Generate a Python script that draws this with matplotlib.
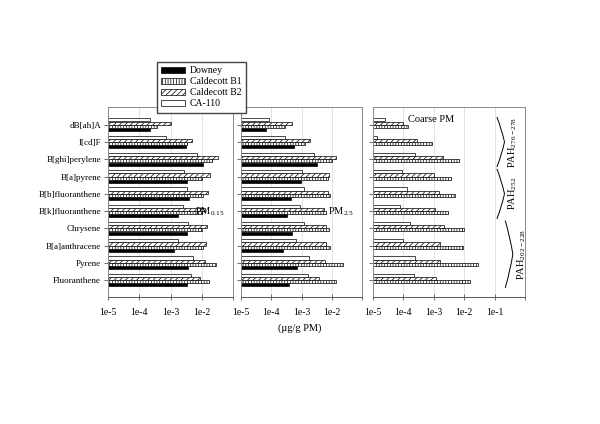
import matplotlib
matplotlib.use("Agg")
import matplotlib.pyplot as plt
import matplotlib.transforms as mtransforms
from matplotlib.path import Path
from matplotlib.patches import PathPatch
import numpy as np

plt.rcParams["font.family"] = ["Liberation Serif", "DejaVu Serif"]
plt.rcParams["mathtext.fontset"] = "custom"
plt.rcParams["mathtext.rm"] = "Liberation Serif"
plt.rcParams["hatch.linewidth"] = 0.5

categories = ["dB[ah]A", "I[cd]F", "B[ghi]perylene", "B[a]pyrene", "B[b]fluoranthene",
              "B[k]fluoranthene", "Chrysene", "B[a]anthracene", "Pyrene", "Fluoranthene"]
series = ["Downey", "Caldecott B1", "Caldecott B2", "CA-110"]

# PM0.15
downey_015 = [2.2e-4, 3.1e-3, 1.1e-2, 3.3e-3, 4.0e-3, 1.8e-3, 3.3e-3, 1.3e-3, 3.7e-3, 3.3e-3]
b1_015 = [3.6e-4, 3.3e-3, 2.1e-2, 1.0e-2, 1.1e-2, 1.0e-2, 1.0e-2, 1.1e-2, 2.9e-2, 1.75e-2]
b2_015 = [1.0e-3, 4.8e-3, 3.2e-2, 1.8e-2, 1.6e-2, 1.3e-2, 1.5e-2, 1.4e-2, 1.3e-2, 8.8e-3]
ca110_015 = [2.2e-4, 7.2e-4, 7.2e-3, 2.8e-3, 3.3e-3, 2.5e-3, 3.5e-3, 1.8e-3, 5.1e-3, 4.5e-3]

# PM2.5
downey_25 = [6.6e-5, 5.6e-4, 3.2e-3, 9.3e-4, 4.6e-4, 3.4e-4, 5.0e-4, 2.4e-4, 7.0e-4, 3.8e-4]
b1_25 = [2.8e-4, 1.35e-3, 1.0e-2, 7.3e-3, 8.7e-3, 6.5e-3, 7.9e-3, 8.7e-3, 2.3e-2, 1.4e-2]
b2_25 = [5.0e-4, 1.9e-3, 1.4e-2, 8.3e-3, 7.3e-3, 5.7e-3, 6.5e-3, 6.5e-3, 6.1e-3, 3.9e-3]
ca110_25 = [8.5e-5, 2.8e-4, 2.5e-3, 1.05e-3, 1.2e-3, 8.6e-4, 1.25e-3, 6.7e-4, 1.8e-3, 1.6e-3]

# Coarse PM (no Downey data)
b1_coarse = [1.4e-4, 9.0e-4, 6.6e-3, 3.7e-3, 4.8e-3, 2.9e-3, 9.5e-3, 9.0e-3, 2.9e-2, 1.6e-2]
b2_coarse = [1.0e-4, 2.9e-4, 2.0e-3, 1.0e-3, 1.5e-3, 1.1e-3, 2.2e-3, 1.6e-3, 1.6e-3, 1.2e-3]
ca110_coarse = [2.4e-5, 1.4e-5, 2.5e-4, 9.0e-5, 1.3e-4, 7.9e-5, 1.6e-4, 9.5e-5, 2.5e-4, 2.2e-4]

tick_labels = ["1e-5", "1e-4", "1e-3", "1e-2", "1e-1"]
groups = [("PAH$_{\\mathregular{276-278}}$", 0, 2),
          ("PAH$_{\\mathregular{252}}$", 3, 5),
          ("PAH$_{\\mathregular{202-228}}$", 6, 9)]

styles = {
    "Downey": dict(facecolor="black", edgecolor="black", hatch=None),
    "Caldecott B1": dict(facecolor="white", edgecolor="black", hatch="||||||"),
    "Caldecott B2": dict(facecolor="white", edgecolor="black", hatch="//////"),
    "CA-110": dict(facecolor="white", edgecolor="black", hatch=None),
}
offsets = {"CA-110": -0.28, "Caldecott B2": -0.09, "Caldecott B1": 0.09, "Downey": 0.28}

fig = plt.figure(figsize=(6.0, 4.24), dpi=100)
W, H = 600, 424


def add_ax(x0, x1, y0=107, y1=297):
    return fig.add_axes([x0 / W, 1 - y1 / H, (x1 - x0) / W, (y1 - y0) / H])


ax1 = add_ax(108, 233)
ax2 = add_ax(241, 362)
ax3 = add_ax(373, 525)

panels = [
    (ax1, {"Downey": downey_015, "Caldecott B1": b1_015, "Caldecott B2": b2_015, "CA-110": ca110_015}, 1e-1),
    (ax2, {"Downey": downey_25, "Caldecott B1": b1_25, "Caldecott B2": b2_25, "CA-110": ca110_25}, 1e-1),
    (ax3, {"Caldecott B1": b1_coarse, "Caldecott B2": b2_coarse, "CA-110": ca110_coarse}, 1e0),
]

y = np.arange(len(categories))
xmin = 1e-5
handles = {}
for ax, data, xmax in panels:
    ax.set_xscale("log")
    for name, vals in data.items():
        vals = np.array(vals)
        h = ax.barh(y + offsets[name], vals - xmin, left=xmin, height=0.18,
                    linewidth=0.5, **styles[name])
        handles[name] = h
    ax.set_xlim(xmin, xmax)
    ax.set_ylim(9.98, -1.03)
    ax.set_yticks(y)
    ax.set_yticklabels(categories if ax is ax1 else [])
    ticks = [10.0 ** k for k in range(-5, int(np.log10(xmax)) + 1)]
    ax.set_xticks(ticks)
    ax.set_xticklabels(tick_labels[:len(ticks) - 1] + [""], fontsize=7)
    ax.xaxis.set_minor_locator(matplotlib.ticker.LogLocator(base=10, subs=np.arange(2, 10)))
    ax.xaxis.set_minor_formatter(matplotlib.ticker.NullFormatter())
    ax.tick_params(axis="x", which="major", direction="inout", length=4, width=0.6,
                   color="#555555", pad=6)
    ax.tick_params(axis="x", which="minor", direction="in", length=2, width=0.5, color="#555555")
    ax.tick_params(axis="y", direction="out", length=3, width=0.6, color="#555555",
                   labelsize=6.5, pad=2)
    ax.grid(axis="x", which="major", color="#dddddd", linewidth=0.6)
    ax.set_axisbelow(True)
    for s in ax.spines.values():
        s.set_color("#888888")
        s.set_linewidth(0.7)
    ax.spines["bottom"].set_color("#555555")

ax1.text(0.93, 0.45, "PM$_{\\mathregular{0.15}}$", transform=ax1.transAxes,
         ha="right", va="center", fontsize=7.5)
ax2.text(0.93, 0.45, "PM$_{\\mathregular{2.5}}$", transform=ax2.transAxes,
         ha="right", va="center", fontsize=7.5)
ax3.text(0.38, 0.96, "Coarse PM", transform=ax3.transAxes,
         ha="center", va="top", fontsize=7.5)

# group brackets (">" shaped) on the right of the coarse panel
trans = mtransforms.blended_transform_factory(ax3.transAxes, ax3.transData)
bx = [(0.815, 0.865, 0.92), (0.815, 0.865, 0.92), (0.87, 0.92, 0.975)]
for (label, i0, i1), (xa, xb, xt) in zip(groups, bx):
    top, bot = i0 - 0.45, i1 + 0.45
    mid = (top + bot) / 2
    path = Path([(xa, top), (xa + 0.65 * (xb - xa), top + 0.5 * (mid - top)), (xb, mid),
                 (xa + 0.65 * (xb - xa), bot - 0.5 * (bot - mid)), (xa, bot)],
                [Path.MOVETO, Path.CURVE3, Path.CURVE3, Path.CURVE3, Path.CURVE3])
    ax3.add_patch(PathPatch(path, transform=trans, facecolor="none",
                            edgecolor="black", linewidth=0.7, clip_on=False))
    ax3.text(xt, mid, label, transform=trans, rotation=90, ha="center", va="center",
             fontsize=7.5)

fig.legend([handles[s] for s in series], series, loc="upper left",
           bbox_to_anchor=(157 / W, 1 - 62 / H), fontsize=7, frameon=True,
           fancybox=False, edgecolor="#444444", framealpha=1, borderpad=0.45,
           labelspacing=0.2, handlelength=2.4, handleheight=0.55, handletextpad=0.5,
           borderaxespad=0)

fig.text(300 / W, 1 - 328 / H, "(\u00b5g/g PM)", ha="center", va="center", fontsize=7.5)

fig.savefig("out.png", dpi=100)
